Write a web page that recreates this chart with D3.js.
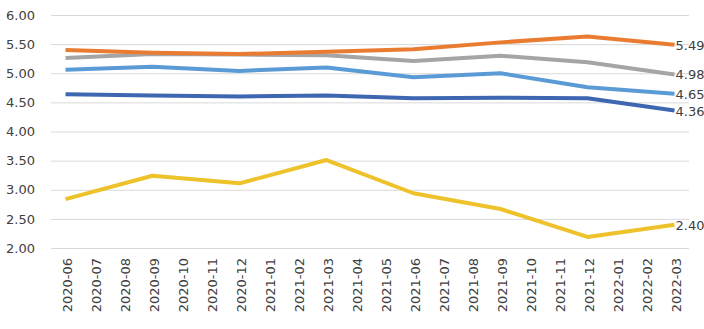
<!DOCTYPE html>
<html><head><meta charset="utf-8">
<script src="https://cdn.jsdelivr.net/npm/d3@7"></script>
<style>body{margin:0;background:#fff}svg{display:block}</style>
</head><body>
<svg id="c" width="704" height="329"></svg>
<script>
const months = ["2020-06","2020-07","2020-08","2020-09","2020-10","2020-11","2020-12","2021-01","2021-02","2021-03","2021-04","2021-05","2021-06","2021-07","2021-08","2021-09","2021-10","2021-11","2021-12","2022-01","2022-02","2022-03"];
const quarterMonths = ["2020-06","2020-09","2020-12","2021-03","2021-06","2021-09","2021-12","2022-03"];
const seriesOrange = [5.40, 5.35, 5.33, 5.37, 5.41, 5.53, 5.63, 5.49];
const seriesGray = [5.26, 5.33, 5.32, 5.31, 5.21, 5.30, 5.19, 4.98];
const seriesLightBlue = [5.06, 5.11, 5.04, 5.10, 4.93, 5.00, 4.76, 4.65];
const seriesDarkBlue = [4.64, 4.62, 4.60, 4.62, 4.57, 4.58, 4.57, 4.36];
const seriesYellow = [2.84, 3.24, 3.11, 3.51, 2.94, 2.67, 2.19, 2.40];
const yTicks = [2.00, 2.50, 3.00, 3.50, 4.00, 4.50, 5.00, 5.50, 6.00];

const series = [
  {values: seriesGray, color: "#A5A5A5"},
  {values: seriesOrange, color: "#E97C30"},
  {values: seriesLightBlue, color: "#5B9BD5"},
  {values: seriesDarkBlue, color: "#3F67B1"},
  {values: seriesYellow, color: "#EDC22B"}
];

const svg = d3.select("#c");
const x = d3.scaleBand().domain(months).range([51, 689]).padding(0);
const y = d3.scaleLinear().domain([2, 6]).range([248, 15]);

const yAxis = d3.axisLeft(y).tickValues(yTicks).tickFormat(d3.format(".2f")).tickSize(-(689-51)).tickPadding(16);
const gy = svg.append("g").attr("transform", "translate(51,0)").call(yAxis);
gy.select(".domain").remove();
gy.selectAll(".tick line").attr("stroke", "#D9D9D9").attr("stroke-width", 1);
gy.selectAll(".tick text").attr("font-family", "DejaVu Sans").attr("font-size", 13).attr("fill", "#404040");

const xAxis = d3.axisBottom(x).tickSize(0).tickPadding(0);
const gx = svg.append("g").attr("transform", "translate(0,248)").call(xAxis);
gx.select(".domain").remove();
gx.selectAll(".tick text")
  .attr("font-family", "DejaVu Sans").attr("font-size", 13).attr("fill", "#404040")
  .attr("text-anchor", "end")
  .attr("dy", null)
  .attr("transform", "translate(6,10) rotate(-90)");

const cx = m => x(m) + x.bandwidth() / 2;
const line = d3.line().x(d => cx(d.m)).y(d => y(d.v));

series.forEach(s => {
  const pts = quarterMonths.map((m, i) => ({m, v: s.values[i]}));
  svg.append("path").datum(pts).attr("d", line)
    .attr("fill", "none").attr("stroke", s.color).attr("stroke-width", 4)
    .attr("stroke-linejoin", "round").attr("stroke-linecap", "butt");
});

series.forEach(s => {
  const last = s.values[s.values.length - 1];
  svg.append("text")
    .attr("x", cx(quarterMonths[quarterMonths.length - 1]) + 1)
    .attr("y", y(last) + 5)
    .attr("font-family", "DejaVu Sans").attr("font-size", 13).attr("fill", "#404040")
    .text(d3.format(".2f")(last));
});
</script>
</body></html>
